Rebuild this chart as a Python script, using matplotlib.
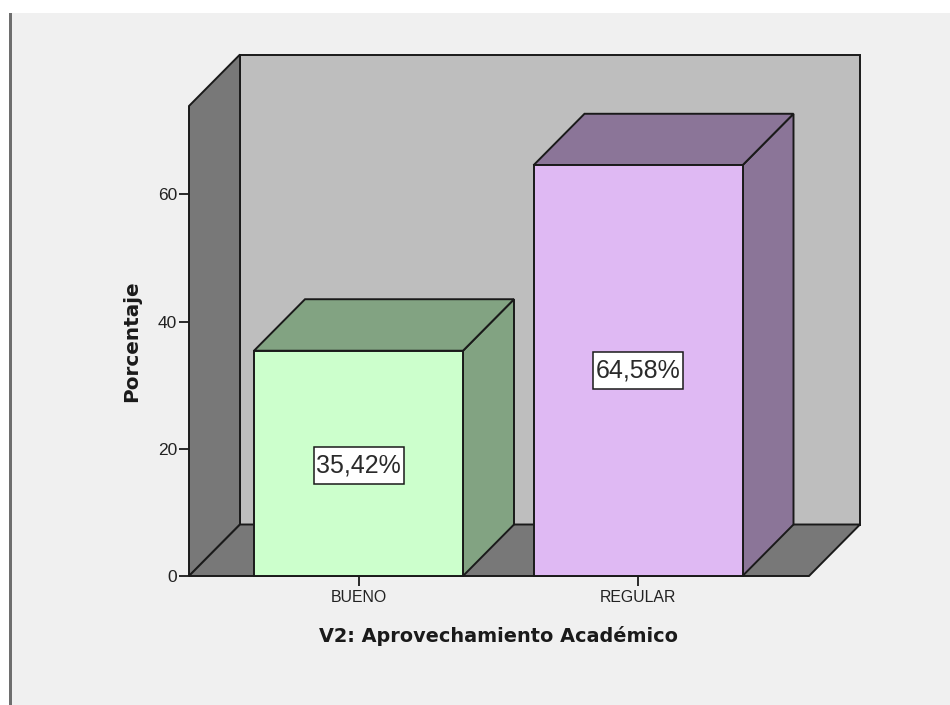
import matplotlib
matplotlib.use('Agg')
import matplotlib.pyplot as plt
from matplotlib.patches import Polygon, Rectangle

categories = ['BUENO', 'REGULAR']
values = [35.42, 64.58]
value_labels = ['35,42%', '64,58%']
label_y = [17.4, 32.3]
front_colors = ['#ccffcc', '#dfb9f3']
side_colors = ['#82a382', '#8b7598']
y_ticks = [0, 20, 40, 60]

W, H = 950, 705
BG = '#f0f0f0'
EDGE = '#1a1a1a'

# front plane of the 3d box, in pixels of the picture
left, right, bottom, top = 189, 809, 576, 106
px_per_unit = 6.36
px_per_cat = 279.5
cat0_px = 358.5

fig = plt.figure(figsize=(W / 100, H / 100), dpi=100, facecolor='white')
fig.patches.append(Rectangle((11 / W, 0), 1 - 11 / W, 1 - 13 / H, transform=fig.transFigure,
                             facecolor=BG, edgecolor='none', zorder=-5))
fig.patches.append(Rectangle((9 / W, 0), 2.5 / W, 1 - 13 / H, transform=fig.transFigure,
                             facecolor='#6e6e6e', edgecolor='none', zorder=-4))

ax = fig.add_axes([left / W, 1 - bottom / H, (right - left) / W, (bottom - top) / H])
ax.set_xlim((left - cat0_px) / px_per_cat, (right - cat0_px) / px_per_cat)
ax.set_ylim(0, (bottom - top) / px_per_unit)
ax.patch.set_visible(False)
for s in ax.spines.values():
    s.set_visible(False)

x0, x1 = ax.get_xlim()
y0, y1 = ax.get_ylim()
dx = 51 / px_per_cat
dy = 51.5 / px_per_unit
bar_w = 209 / px_per_cat
box_w = 90 / px_per_cat
box_h = 37 / px_per_unit


def face(pts, color, z):
    ax.add_patch(Polygon(pts, closed=True, facecolor=color, edgecolor=EDGE,
                         linewidth=1.4, joinstyle='miter', clip_on=False, zorder=z))


# walls and floor
face([(x0 + dx, y0 + dy), (x1 + dx, y0 + dy), (x1 + dx, y1 + dy), (x0 + dx, y1 + dy)], '#bebebe', 1)
face([(x0, y0), (x0 + dx, y0 + dy), (x0 + dx, y1 + dy), (x0, y1)], '#787878', 2)
face([(x0, y0), (x1, y0), (x1 + dx, y0 + dy), (x0 + dx, y0 + dy)], '#787878', 2)

# bars
for i, v in enumerate(values):
    a = i - bar_w / 2
    b = i + bar_w / 2
    face([(b, 0), (b + dx, dy), (b + dx, v + dy), (b, v)], side_colors[i], 3)
    face([(a, v), (b, v), (b + dx, v + dy), (a + dx, v + dy)], side_colors[i], 3)
    face([(a, 0), (b, 0), (b, v), (a, v)], front_colors[i], 4)
    ax.add_patch(Rectangle((i - box_w / 2, label_y[i] - box_h / 2), box_w, box_h, facecolor='white',
                           edgecolor=EDGE, linewidth=1.1, zorder=5))
    ax.text(i, label_y[i], value_labels[i], ha='center', va='center', fontsize=18,
            family='Liberation Sans', color='#2a2a2a', zorder=6)

ax.set_xticks(range(len(categories)))
ax.set_xticklabels(categories, family='Liberation Sans', fontsize=11.4, color='#222222')
ax.set_yticks(y_ticks)
ax.set_yticklabels([str(t) for t in y_ticks], family='Liberation Sans', fontsize=12.5, color='#222222')
ax.tick_params(axis='x', length=7, width=1.3, color=EDGE, pad=3)
ax.tick_params(axis='y', length=7, width=1.3, color=EDGE, pad=1.5)

fig.text(498.5 / W, 1 - 636 / H, 'V2: Aprovechamiento Académico', ha='center', va='center',
         family='DejaVu Sans', fontweight='bold', fontsize=13.9, color='#1a1a1a')
fig.text(132 / W, 1 - 341 / H, 'Porcentaje', ha='center', va='center', rotation=90,
         family='DejaVu Sans', fontweight='bold', fontsize=14.4, color='#1a1a1a')

fig.savefig('out.png', dpi=100)
